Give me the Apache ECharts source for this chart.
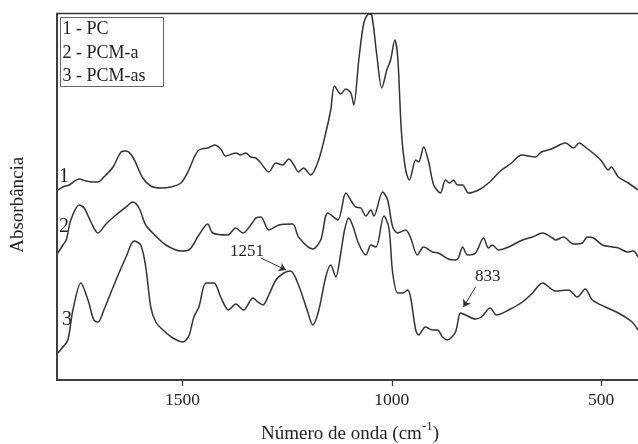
<!DOCTYPE html>
<html>
<head>
<meta charset="utf-8">
<script src="https://cdn.jsdelivr.net/npm/echarts@6/dist/echarts.min.js"></script>
<style>
  html, body { margin: 0; padding: 0; background: #fff; }
  #chart { width: 638px; height: 444px; }
</style>
</head>
<body>
<div id="chart"></div>
<script>
// número de onda (cm-1) e absorbância relativa
const pcWave = [1798, 1786, 1771, 1747, 1731, 1714, 1702, 1688, 1666, 1647, 1635, 1619, 1595, 1576, 1552, 1528, 1504, 1485, 1473, 1461, 1440, 1423, 1409, 1397, 1373, 1361, 1349, 1337, 1325, 1313, 1294, 1277, 1261, 1246, 1234, 1223, 1211, 1194, 1175, 1158, 1146, 1137, 1122, 1110, 1098, 1091, 1079, 1067, 1055, 1048, 1036, 1024, 1012, 1003, 993, 986, 977, 967, 958, 943, 936, 924, 912, 900, 884, 872, 862, 853, 843, 831, 817, 793, 769, 738, 714, 690, 657, 643, 619, 585, 566, 552, 538, 514, 499, 483, 476, 459, 435, 412];
const pcAbs = [188, 191, 193, 199, 197, 196, 196, 201, 211, 226, 227, 221, 200, 192, 190, 191, 195, 208, 220, 228, 230, 233, 229, 222, 225, 223, 225, 221, 220, 215, 206, 215, 213, 219, 213, 206, 210, 203, 218, 245, 268, 292, 284, 289, 285, 273, 318, 355, 364, 363, 323, 290, 308, 318, 338, 321, 245, 208, 198, 218, 216, 231, 216, 193, 185, 198, 195, 198, 193, 193, 185, 188, 195, 208, 215, 223, 221, 226, 229, 235, 230, 235, 231, 223, 217, 208, 211, 201, 195, 188];

const pcmaWave = [1798, 1786, 1778, 1767, 1747, 1735, 1719, 1702, 1683, 1659, 1635, 1619, 1604, 1588, 1564, 1540, 1504, 1485, 1461, 1440, 1428, 1392, 1373, 1356, 1332, 1325, 1313, 1294, 1270, 1237, 1223, 1189, 1170, 1153, 1129, 1110, 1094, 1086, 1074, 1062, 1050, 1043, 1022, 1010, 998, 986, 967, 955, 939, 924, 903, 889, 865, 848, 841, 831, 819, 800, 781, 769, 760, 745, 721, 688, 664, 640, 616, 609, 590, 566, 545, 533, 518, 497, 473, 459, 437, 423, 412];
const pcmaAbs = [125, 133, 138, 158, 173, 170, 156, 145, 154, 163, 171, 176, 170, 153, 142, 133, 127, 128, 143, 154, 145, 143, 150, 145, 156, 160, 161, 148, 153, 154, 141, 129, 138, 165, 158, 185, 175, 171, 170, 162, 168, 162, 186, 178, 151, 145, 148, 140, 123, 131, 126, 125, 119, 118, 120, 131, 123, 125, 140, 130, 133, 128, 131, 138, 141, 145, 140, 138, 141, 134, 135, 141, 140, 133, 131, 130, 126, 127, 121];

const pcmasWave = [1798, 1786, 1774, 1762, 1743, 1726, 1712, 1702, 1688, 1659, 1635, 1616, 1600, 1588, 1576, 1564, 1547, 1523, 1499, 1485, 1473, 1461, 1444, 1425, 1409, 1390, 1373, 1354, 1332, 1320, 1308, 1294, 1277, 1258, 1242, 1223, 1201, 1189, 1175, 1158, 1146, 1134, 1122, 1113, 1103, 1094, 1079, 1062, 1050, 1038, 1019, 1007, 998, 986, 974, 962, 955, 943, 936, 920, 903, 891, 879, 867, 848, 836, 824, 800, 786, 765, 750, 721, 688, 664, 640, 609, 578, 557, 538, 521, 490, 459, 426, 412];
const pcmasAbs = [25, 31, 38, 68, 95, 78, 58, 56, 68, 98, 121, 137, 133, 111, 71, 56, 48, 40, 36, 42, 61, 71, 95, 95, 81, 68, 74, 68, 80, 76, 73, 83, 98, 105, 107, 93, 66, 53, 67, 101, 113, 101, 125, 148, 160, 153, 134, 123, 133, 131, 162, 150, 105, 85, 85, 88, 80, 48, 43, 51, 48, 48, 41, 38, 46, 65, 63, 59, 61, 70, 63, 68, 76, 85, 95, 87, 88, 81, 89, 78, 71, 65, 56, 48];

const seriesNames = ['1 - PC', '2 - PCM-a', '3 - PCM-as'];
const xTicks = [500, 1000, 1500];

const zip = (w, a) => w.map((v, i) => [v, a[i]]);
const serif = 'Liberation Serif';
const ink = '#333';
const txt = '#222';

const chart = echarts.init(document.getElementById('chart'), null, { renderer: 'canvas' });

const lineSeries = (name, data) => ({
  name: name,
  type: 'line',
  data: data,
  showSymbol: false,
  smooth: 0.3,
  lineStyle: { color: ink, width: 1.5 },
  silent: true,
  z: 3
});

const s3 = lineSeries(seriesNames[2], zip(pcmasWave, pcmasAbs));
// setas de anotação (1251 e 833)
s3.markLine = {
  silent: true,
  animation: false,
  symbol: ['none', 'arrow'],
  symbolSize: 7,
  label: { show: false },
  lineStyle: { color: ink, width: 1, type: 'solid' },
  data: [
    [{ coord: [1313, 120] }, { coord: [1253, 108] }],
    [{ coord: [800, 91] }, { coord: [829, 71] }]
  ]
};
s3.markPoint = {
  silent: true,
  animation: false,
  symbol: 'circle',
  symbolSize: 0,
  label: {
    show: true,
    position: 'inside',
    formatter: '{b}',
    fontFamily: serif,
    fontSize: 17,
    color: txt
  },
  data: [
    { name: '1251', coord: [1346, 126] },
    { name: '833', coord: [771, 101] }
  ]
};

const option = {
  animation: false,
  grid: {
    left: 57,
    top: 13.5,
    right: -5,
    bottom: 64,
    outerBoundsMode: 'none',
    show: true,
    borderColor: ink,
    borderWidth: 1.5
  },
  xAxis: {
    type: 'value',
    inverse: true,
    min: 400,
    max: 1800,
    name: 'Número de onda (cm{sup|-1})',
    nameLocation: 'middle',
    nameGap: 40,
    nameTextStyle: {
      fontFamily: serif,
      fontSize: 19,
      color: txt,
      rich: {
        sup: { fontFamily: serif, fontSize: 13, color: txt, verticalAlign: 'bottom', padding: [0, 0, 16, 0] }
      }
    },
    axisLine: { show: true, onZero: false, lineStyle: { color: ink, width: 1.5 } },
    axisTick: { show: true, inside: false, length: 6, customValues: xTicks, lineStyle: { color: ink, width: 1.2 } },
    axisLabel: {
      customValues: xTicks,
      formatter: (v) => String(v),
      fontFamily: serif,
      fontSize: 17.5,
      color: txt,
      margin: 11
    },
    splitLine: { show: false }
  },
  yAxis: {
    type: 'value',
    min: -2,
    max: 364.5,
    name: 'Absorbância',
    nameLocation: 'middle',
    nameGap: 29,
    nameTextStyle: { fontFamily: serif, fontSize: 19, color: txt, padding: [0, 16, 0, 0] },
    axisLine: { show: true, onZero: false, lineStyle: { color: ink, width: 1.5 } },
    axisTick: { show: false },
    axisLabel: { show: false },
    splitLine: { show: false }
  },
  graphic: [
    // caixa da legenda
    {
      type: 'group',
      left: 60,
      top: 17,
      children: [
        { type: 'rect', shape: { x: 0, y: 0, width: 103, height: 69 }, style: { fill: '#fff', stroke: '#666', lineWidth: 1 } },
        { type: 'text', x: 2, y: 3, style: { text: seriesNames[0], font: '18px "Liberation Serif"', fill: txt } },
        { type: 'text', x: 2, y: 26.5, style: { text: seriesNames[1], font: '18px "Liberation Serif"', fill: txt } },
        { type: 'text', x: 2, y: 50, style: { text: seriesNames[2], font: '18px "Liberation Serif"', fill: txt } }
      ]
    },
    // números das curvas
    { type: 'text', left: 59, top: 167, style: { text: '1', font: '20px "Liberation Serif"', fill: txt } },
    { type: 'text', left: 59, top: 217, style: { text: '2', font: '20px "Liberation Serif"', fill: txt } },
    { type: 'text', left: 62, top: 310, style: { text: '3', font: '20px "Liberation Serif"', fill: txt } }
  ],
  series: [
    lineSeries(seriesNames[0], zip(pcWave, pcAbs)),
    lineSeries(seriesNames[1], zip(pcmaWave, pcmaAbs)),
    s3
  ]
};

chart.setOption(option);
</script>
</body>
</html>
